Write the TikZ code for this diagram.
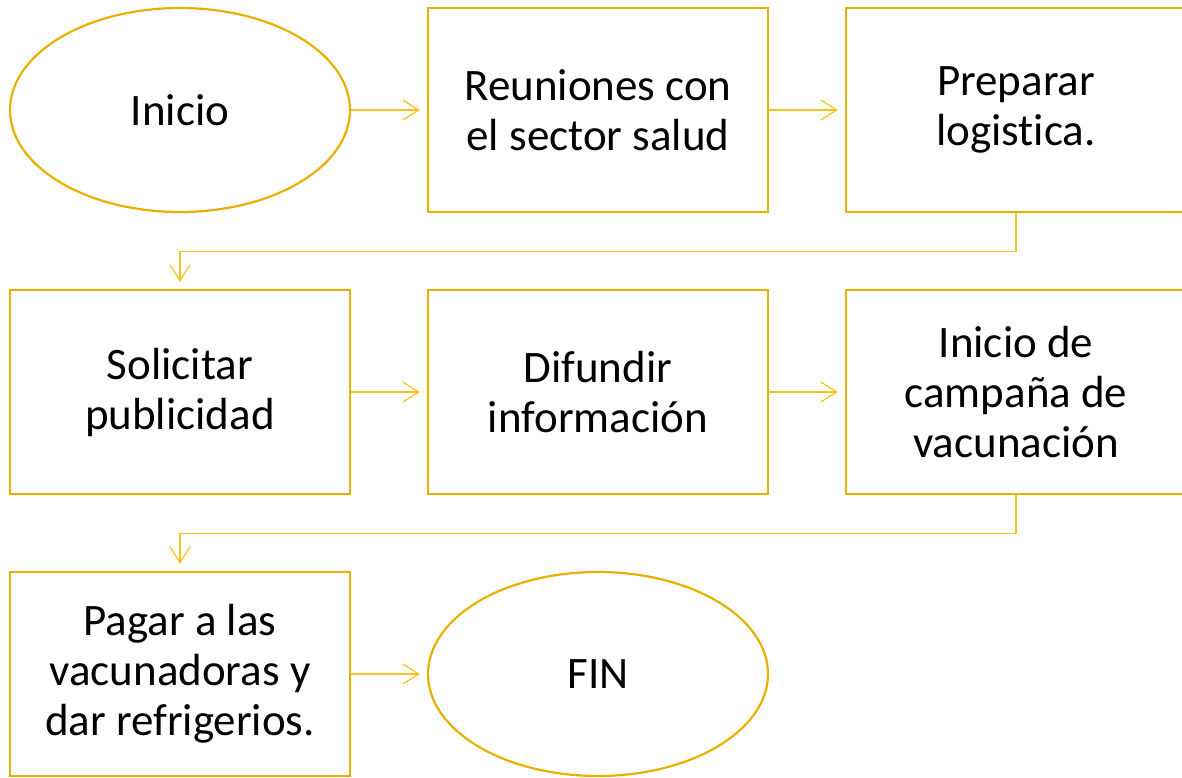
\documentclass[tikz,border=0pt]{standalone}
\usepackage{fontspec}
\setmainfont{Carlito}[Ligatures={NoCommon}]
\usetikzlibrary{shapes.geometric,arrows.meta}
\definecolor{gborder}{HTML}{E8B000}
\definecolor{gline}{HTML}{F7C31A}
\tikzset{
  x=1pt,y=-1pt,
  stepbox/.style={draw=gborder,line width=2.2pt,rectangle,minimum width=340pt,minimum height=204pt,inner sep=0pt,align=center,font=\fontsize{45}{50}\selectfont},
  oval/.style={draw=gborder,line width=2.2pt,ellipse,minimum width=340pt,minimum height=204pt,inner sep=0pt,align=center,font=\fontsize{45}{50}\selectfont},
  conn/.style={draw=gline,line width=1.2pt,-{Straight Barb[length=16pt,width=20pt,line width=1.2pt]},shorten >=7pt}
}
\begin{document}
\begin{tikzpicture}
\useasboundingbox (0,0) rectangle (1182,777);
\node[oval] (inicio) at (180,110) {Inicio};
\node[stepbox] (reun) at (598,110) {Reuniones con\\el sector salud};
\node[stepbox] (prep) at (1016,110) {Preparar\\logistica.};
\node[stepbox] (sol) at (180,392) {Solicitar\\publicidad};
\node[stepbox] (dif) at (598,392) {Difundir\\información};
\node[stepbox] (camp) at (1016,392) {Inicio de\\campaña de\\vacunación};
\node[stepbox] (pag) at (180,674) {Pagar a las\\vacunadoras y\\dar refrigerios.};
\node[oval] (fin) at (598,674) {FIN};
\draw[conn] (inicio.east) -- (reun.west);
\draw[conn] (reun.east) -- (prep.west);
\draw[conn] (prep.south) -- ++(0,38) -| (sol.north);
\draw[conn] (sol.east) -- (dif.west);
\draw[conn] (dif.east) -- (camp.west);
\draw[conn] (camp.south) -- ++(0,38) -| (pag.north);
\draw[conn] (pag.east) -- (fin.west);
\end{tikzpicture}
\end{document}
